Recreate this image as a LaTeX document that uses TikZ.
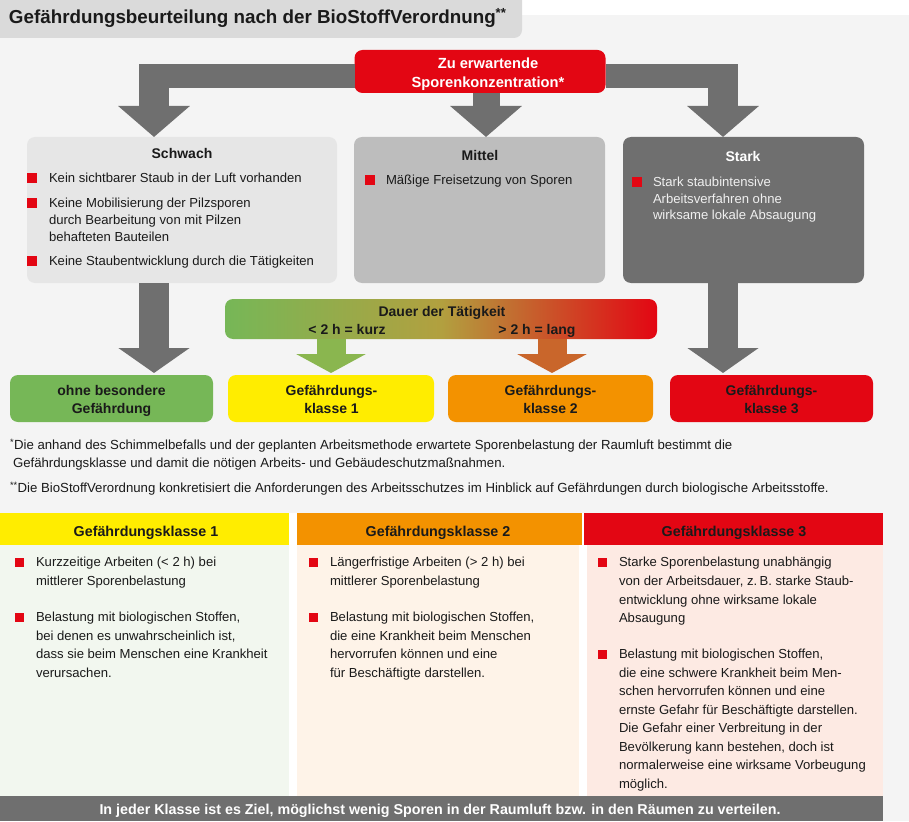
\documentclass[tikz,border=0pt]{standalone}
\usepackage{fontspec}
\setmainfont{Liberation Sans}
\usetikzlibrary{arrows.meta}
\definecolor{bg}{HTML}{F4F4F4}
\definecolor{titlegrey}{HTML}{DADADA}
\definecolor{dred}{HTML}{E30613}
\definecolor{agrey}{HTML}{6F6F6F}
\definecolor{lgrey}{HTML}{E6E6E6}
\definecolor{mgrey}{HTML}{BDBDBD}
\definecolor{kgreen}{HTML}{76B757}
\definecolor{kyellow}{HTML}{FFED00}
\definecolor{korange}{HTML}{F39200}
\definecolor{txt}{HTML}{1A1A1A}
\definecolor{c1bg}{HTML}{F2F7EF}
\definecolor{c2bg}{HTML}{FEF3E8}
\definecolor{c3bg}{HTML}{FDEAE3}
\definecolor{garrowL}{HTML}{8AB64F}
\definecolor{garrowR}{HTML}{C9662B}
\definecolor{gmid}{HTML}{B2A03F}
\newcommand\txtlines[6]{%
  \foreach \myline [count=\k] in {#6}{%
    \node[#1, anchor=base west] (#2\k) at (#3,{#4+#5*(\k-1)}) {\myline};}}
\begin{document}
\begin{tikzpicture}[x=1pt,y=-1pt,
  every node/.style={inner sep=0pt, outer sep=0pt, text=txt},
  body/.style={font=\fontsize{13.1}{17}\selectfont},
  bodyw/.style={body, text=white!94!black},
  foot/.style={font=\fontsize{13.2}{17}\selectfont},
  bold14/.style={font=\bfseries\fontsize{14}{17}\selectfont},
  panel/.style={rounded corners=8pt, draw=none},
  bulletsq/.style={fill=dred, minimum size=10pt},
  tbullet/.style={fill=dred, minimum size=9pt},
  fatarrow/.style={draw=agrey, line width=30pt, -{Triangle[width=70pt,length=31pt]}},
]
\useasboundingbox (0,0) rectangle (909,821);
\fill[bg] (0,0) rectangle (909,821);
\fill[white] (522,0) rectangle (909,15);
\fill[titlegrey, rounded corners=8pt] (-12,-12) rectangle (522,38);
\node[anchor=base west, font=\bfseries\fontsize{18.8}{22}\selectfont] (title) at (9,24)
  {Gefährdungsbeurteilung nach der BioStoffVerordnung\textsuperscript{**}};

% --- concentration box and top arrows
\node[panel, fill=dred, minimum width=251pt, minimum height=43pt] (conc) at (480,71.5) {};
\node[anchor=base, font=\bfseries\fontsize{14.7}{18}\selectfont, text=white] (conc1) at (488,68.3) {Zu erwartende};
\node[anchor=base, font=\bfseries\fontsize{14.7}{18}\selectfont, text=white] (conc2) at (488,87.3) {Sporenkonzentration*};

\node[panel, fill=lgrey, minimum width=310pt, minimum height=146pt] (schwach) at (182,210) {};
\node[panel, fill=mgrey, minimum width=251pt, minimum height=146pt] (mittel) at (479.5,210) {};
\node[panel, fill=agrey, minimum width=241pt, minimum height=146pt] (stark) at (743.5,210) {};

\coordinate (bartop) at (0,64.5);
\coordinate (barbot) at (0,88.5);
\coordinate (tl) at (154,64.5);
\coordinate (tr) at (723,64.5);
\fill[agrey] (139,64.5) rectangle (conc.west |- barbot);
\fill[agrey] (conc.east |- bartop) rectangle (738,88.5);
\draw[fatarrow] (tl) -- (tl |- schwach.north);
\draw[fatarrow] (tr) -- (tr |- stark.north);
\coordinate (cm) at ([xshift=6pt]conc.south);
\draw[fatarrow, line width=27pt] (cm) -- (cm |- mittel.north);

% --- box texts
\node[bold14, anchor=base] (schwachT) at (182,158.5) {Schwach};
\node[bold14, anchor=base] (mittelT) at (480,160.5) {Mittel};
\node[bold14, anchor=base, text=white] (starkT) at (743,161) {Stark};

\node[bulletsq] (bs1) at (32,178) {};
\node[bulletsq] (bs2) at (32,203) {};
\node[bulletsq] (bs3) at (32,261) {};
\txtlines{body}{sa}{49}{182.7}{17}{{Kein sichtbarer Staub in der Luft vorhanden}}
\txtlines{body}{sb}{49}{207.7}{17}{{Keine Mobilisierung der Pilzsporen},{durch Bearbeitung von mit Pilzen},{behafteten Bauteilen}}
\txtlines{body}{sc}{49}{265.7}{17}{{Keine Staubentwicklung durch die Tätigkeiten}}

\node[bulletsq] (bm1) at (370,180) {};
\txtlines{body}{ma}{386}{184.7}{17}{{Mäßige Freisetzung von Sporen}}

\node[bulletsq] (bk1) at (637,182) {};
\txtlines{bodyw}{ka}{653}{186.5}{16.7}{{Stark staubintensive},{Arbeitsverfahren ohne},{wirksame lokale Absaugung}}

% --- duration bar
\node[panel, left color=kgreen, right color=dred, middle color=gmid, minimum width=432pt, minimum height=40pt] (dauer) at (441,319) {};
\node[bold14, anchor=base] (dauerT) at (442,316) {Dauer der Tätigkeit};
\node[bold14, anchor=base] (kurz) at (347,334) {< 2 h = kurz};
\node[bold14, anchor=base] (lang) at (537,334) {> 2 h = lang};

% --- result boxes
\node[panel, fill=kgreen, minimum width=203pt, minimum height=47pt] (gfree) at (111.5,398.5) {};
\node[panel, fill=kyellow, minimum width=206pt, minimum height=47pt] (k1) at (331,398.5) {};
\node[panel, fill=korange, minimum width=205pt, minimum height=47pt] (k2) at (550.5,398.5) {};
\node[panel, fill=dred, minimum width=203pt, minimum height=47pt] (k3) at (771.5,398.5) {};
\node[bold14, anchor=base] (gfreeA) at (111.5,395) {ohne besondere};
\node[bold14, anchor=base] (gfreeB) at (111.5,413) {Gefährdung};
\node[bold14, anchor=base] (k1A) at (331.5,395) {Gefährdungs-};
\node[bold14, anchor=base] (k1B) at (331.5,413) {klasse 1};
\node[bold14, anchor=base] (k2A) at (550.5,395) {Gefährdungs-};
\node[bold14, anchor=base] (k2B) at (550.5,413) {klasse 2};
\node[bold14, anchor=base] (k3A) at (771.5,395) {Gefährdungs-};
\node[bold14, anchor=base] (k3B) at (771.5,413) {klasse 3};

\coordinate (gfreeTop) at ([yshift=2pt]gfree.north);
\coordinate (k1Top) at ([yshift=2pt]k1.north);
\coordinate (k2Top) at ([yshift=2pt]k2.north);
\coordinate (k3Top) at ([yshift=2pt]k3.north);
\draw[fatarrow, -{Triangle[width=70pt,length=25pt]}] (schwach.south -| tl) -- (gfreeTop -| tl);
\draw[fatarrow, -{Triangle[width=70pt,length=25pt]}] (stark.south -| tr) -- (k3Top -| tr);
\coordinate (ga) at (331,0);
\coordinate (gb) at (552,0);
\draw[draw=garrowL, line width=29pt, -{Triangle[width=69pt,length=19pt]}] (dauer.south -| ga) -- (k1Top -| ga);
\draw[draw=garrowR, line width=29pt, -{Triangle[width=69pt,length=19pt]}] (dauer.south -| gb) -- (k2Top -| gb);

% --- footnotes
\node[foot, anchor=base west] (fn1) at (10,449.7) {\textsuperscript{*}Die anhand des Schimmelbefalls und der geplanten Arbeitsmethode erwartete Sporenbelastung der Raumluft bestimmt die};
\node[foot, anchor=base west] (fn2) at (13,467.7) {Gefährdungsklasse und damit die nötigen Arbeits- und Gebäudeschutzmaßnahmen.};
\node[foot, anchor=base west] (fn3) at (10,492.7) {\textsuperscript{**}Die BioStoffVerordnung konkretisiert die Anforderungen des Arbeitsschutzes im Hinblick auf Gefährdungen durch biologische Arbeitsstoffe.};

% --- table
\fill[white] (0,513) rectangle (883,796);
\fill[kyellow] (0,513) rectangle (289,545);
\fill[korange] (297,513) rectangle (582,545);
\fill[dred] (584,513) rectangle (883,545);
\fill[c1bg] (0,545) rectangle (289,796);
\fill[c2bg] (297,545) rectangle (579,796);
\fill[c3bg] (587,545) rectangle (883,796);
\node[font=\bfseries\fontsize{14.3}{17}\selectfont, anchor=base] (h1) at (146,536) {Gefährdungsklasse 1};
\node[font=\bfseries\fontsize{14.3}{17}\selectfont, anchor=base] (h2) at (438,536) {Gefährdungsklasse 2};
\node[font=\bfseries\fontsize{14.3}{17}\selectfont, anchor=base] (h3) at (734,536) {Gefährdungsklasse 3};

\node[tbullet] (t1a) at (19,562) {};
\node[tbullet] (t1b) at (19,617) {};
\txtlines{body}{ua}{36}{566.7}{18.8}{{Kurzzeitige Arbeiten (< 2 h) bei},{mittlerer Sporenbelastung}}
\txtlines{body}{ub}{36}{621.3}{18.7}{{Belastung mit biologischen Stoffen,},{bei denen es unwahrscheinlich ist,},{dass sie beim Menschen eine Krankheit},{verursachen.}}

\node[tbullet] (t2a) at (313,562) {};
\node[tbullet] (t2b) at (313,617) {};
\txtlines{body}{va}{330}{566.7}{18.8}{{Längerfristige Arbeiten (> 2 h) bei},{mittlerer Sporenbelastung}}
\txtlines{body}{vb}{330}{621.3}{18.7}{{Belastung mit biologischen Stoffen,},{die eine Krankheit beim Menschen},{hervorrufen können und eine},{für Beschäftigte darstellen.}}

\node[tbullet] (t3a) at (602.5,562) {};
\node[tbullet] (t3b) at (602.5,654) {};
\txtlines{body}{wa}{619}{566.7}{18.7}{{Starke Sporenbelastung unabhängig},{von der Arbeitsdauer, z.\,B. starke Staub-},{entwicklung ohne wirksame lokale},{Absaugung}}
\txtlines{body}{wb}{619}{658.7}{18.5}{{Belastung mit biologischen Stoffen,},{die eine schwere Krankheit beim Men-},{schen hervorrufen können und eine},{ernste Gefahr für Beschäftigte darstellen.},{Die Gefahr einer Verbreitung in der},{Bevölkerung kann bestehen, doch ist},{normalerweise eine wirksame Vorbeugung},{möglich.}}

% --- bottom bar
\node[fill=agrey, minimum width=883pt, minimum height=25pt] (goal) at (441.5,808.5) {};
\node[anchor=base, font=\bfseries\fontsize{14.3}{17}\selectfont, text=white] (goalT) at (440,814) {In jeder Klasse ist es Ziel, möglichst wenig Sporen in der Raumluft bzw. in den Räumen zu verteilen.};
\end{tikzpicture}
\end{document}
